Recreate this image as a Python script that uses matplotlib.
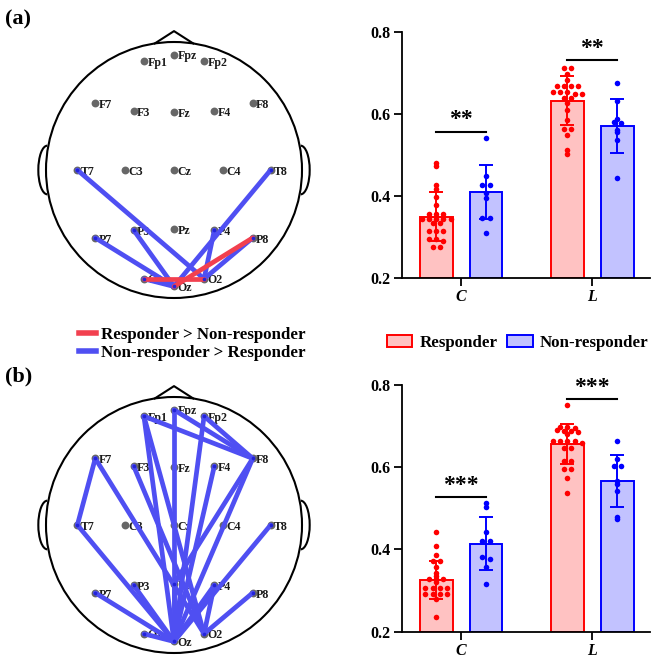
import numpy as np
import matplotlib
matplotlib.use("Agg")
import matplotlib.pyplot as plt
from matplotlib.patches import Circle, Arc, Patch
from matplotlib.lines import Line2D

plt.rcParams["font.family"] = ["Liberation Serif", "DejaVu Serif"]
plt.rcParams["font.weight"] = "bold"

# --- electrode layout (head radius = 1) ---
ELEC = {
    "Fp1": (-0.235, 0.85), "Fpz": (0.0, 0.90), "Fp2": (0.235, 0.85),
    "F7": (-0.615, 0.52), "F3": (-0.315, 0.46), "Fz": (0.0, 0.45),
    "F4": (0.315, 0.46), "F8": (0.615, 0.52),
    "T7": (-0.755, 0.0), "C3": (-0.385, 0.0), "Cz": (0.0, 0.0),
    "C4": (0.385, 0.0), "T8": (0.755, 0.0),
    "P7": (-0.615, -0.53), "P3": (-0.315, -0.47), "Pz": (0.0, -0.46),
    "P4": (0.315, -0.47), "P8": (0.615, -0.53),
    "O1": (-0.235, -0.85), "Oz": (0.0, -0.91), "O2": (0.235, -0.85),
}

# --- connections ---
a_resp_gt = [("P8", "Oz"), ("O1", "O2")]
a_non_gt = [("T7", "O2"), ("T8", "Oz"), ("P7", "Oz"), ("P3", "Oz"),
            ("P4", "O2"), ("P8", "O2"), ("O1", "Oz")]
b_resp_gt = []
b_non_gt = [("Fp1", "F8"), ("Fpz", "F8"), ("Fp2", "F8"), ("Fp1", "Oz"),
            ("Fp1", "O2"), ("Fpz", "Oz"), ("Fp2", "Oz"), ("F7", "T7"),
            ("F7", "O2"), ("F3", "O2"), ("F4", "Oz"), ("F8", "Oz"),
            ("F8", "Pz"), ("T7", "Oz"), ("T8", "Oz"), ("P7", "Oz"),
            ("P3", "Oz"), ("Pz", "Oz"), ("P4", "Oz"), ("P4", "O2"),
            ("P8", "O2"), ("O1", "Oz")]

# --- bar data ---
CATS = ["C", "L"]
a_mean_resp = [0.350, 0.632]
a_sd_resp = [0.059, 0.060]
a_mean_non = [0.410, 0.571]
a_sd_non = [0.065, 0.065]
a_pts_resp_C = [0.481, 0.472, 0.427, 0.418, 0.398, 0.377, 0.355, 0.355, 0.355,
                0.343, 0.343, 0.343, 0.343, 0.343, 0.333, 0.333, 0.315, 0.315,
                0.315, 0.294, 0.294, 0.290, 0.275, 0.275]
a_pts_non_C = [0.541, 0.449, 0.427, 0.427, 0.407, 0.394, 0.346, 0.346, 0.309]
a_pts_resp_L = [0.713, 0.713, 0.698, 0.683, 0.668, 0.668, 0.668, 0.668, 0.654,
                0.654, 0.654, 0.649, 0.649, 0.640, 0.640, 0.626, 0.610, 0.585,
                0.563, 0.563, 0.549, 0.512, 0.502]
a_pts_non_L = [0.676, 0.632, 0.589, 0.581, 0.577, 0.561, 0.555, 0.536, 0.444]
a_sig_y = [0.557, 0.731]
a_stars = ["**", "**"]

b_mean_resp = [0.326, 0.657]
b_sd_resp = [0.047, 0.048]
b_mean_non = [0.414, 0.567]
b_sd_non = [0.065, 0.063]
b_pts_resp_C = [0.442, 0.408, 0.386, 0.373, 0.373, 0.358, 0.342, 0.336, 0.328,
                0.328, 0.328, 0.306, 0.306, 0.306, 0.306, 0.292, 0.292, 0.292,
                0.292, 0.279, 0.236, 0.320]
b_pts_non_C = [0.512, 0.504, 0.443, 0.421, 0.421, 0.381, 0.377, 0.358, 0.316]
b_pts_resp_L = [0.752, 0.699, 0.699, 0.695, 0.690, 0.688, 0.688, 0.685, 0.680,
                0.665, 0.665, 0.665, 0.665, 0.660, 0.646, 0.646, 0.616, 0.616,
                0.596, 0.596, 0.573, 0.538]
b_pts_non_L = [0.665, 0.619, 0.603, 0.603, 0.567, 0.559, 0.541, 0.480, 0.473]
b_sig_y = [0.528, 0.765]
b_stars = ["***", "***"]

RED_LINE = "#f2404f"
BLUE_LINE = "#4f4ff2"
RED, BLUE = "#ff0000", "#0000ff"
RED_FACE, BLUE_FACE = "#ffc2c2", "#c2c2ff"

W, H = 664, 658
fig = plt.figure(figsize=(W / 100, H / 100), dpi=100)


def head_axes(cy_px):
    r = 128.0
    x0, x1, y0, y1 = -1.2, 1.2, -1.03, 1.2
    left = 174 - 1.2 * r
    top = cy_px - y1 * r
    ax = fig.add_axes([left / W, 1 - (top + (y1 - y0) * r) / H,
                       (x1 - x0) * r / W, (y1 - y0) * r / H])
    ax.set_xlim(x0, x1)
    ax.set_ylim(y0, y1)
    ax.set_aspect("equal")
    ax.axis("off")
    return ax


def draw_head(ax, resp_gt, non_gt):
    ax.add_patch(Circle((0, 0), 1, fill=False, lw=1.5, ec="black"))
    bx = 0.15
    by = np.sqrt(1 - bx ** 2)
    ax.plot([-bx, 0, bx], [by, 1.085, by], color="black", lw=1.5)
    ax.add_patch(Arc((-0.99, 0), 0.14, 0.38, theta1=90, theta2=270, lw=1.5))
    ax.add_patch(Arc((0.99, 0), 0.14, 0.38, theta1=-90, theta2=90, lw=1.5))
    for name, (x, y) in ELEC.items():
        ax.scatter(x, y, s=32, color="#676767", zorder=2, lw=0)
        ax.annotate(name, (x, y), xytext=(2.4, -1.2), textcoords="offset points",
                    ha="left", va="center", fontsize=8.6, color="#1a1a1a",
                    zorder=3)
    ends = set()
    for edges, col in ((non_gt, BLUE_LINE), (resp_gt, RED_LINE)):
        for a, b in edges:
            xa, ya = ELEC[a]
            xb, yb = ELEC[b]
            ax.plot([xa, xb], [ya, yb], color=col, lw=3.4, zorder=4,
                    solid_capstyle="round")
            ends.update([a, b])
    for n in ends:
        ax.scatter(*ELEC[n], s=7, color="#2323d8", zorder=5, lw=0)


def swarm(vals, step=0.055, tol=0.006):
    vals = np.asarray(vals)
    order = np.argsort(-vals)
    off = np.zeros(len(vals))
    rows, cur = [], [order[0]]
    for i in order[1:]:
        if abs(vals[i] - vals[cur[0]]) <= tol:
            cur.append(i)
        else:
            rows.append(cur)
            cur = [i]
    rows.append(cur)
    for row in rows:
        n = len(row)
        off[row] = (np.arange(n) - (n - 1) / 2) * step
    return off


def draw_bars(ax, m_r, s_r, m_n, s_n, pts_r, pts_n, sig_y, stars):
    xs = np.arange(len(CATS))
    d, w = 0.19, 0.25
    for i in xs:
        for x, m, s, pts, ec, fc in ((i - d, m_r[i], s_r[i], pts_r[i], RED, RED_FACE),
                                     (i + d, m_n[i], s_n[i], pts_n[i], BLUE, BLUE_FACE)):
            ax.bar(x, m - 0.2, bottom=0.2, width=w, color=fc, edgecolor=ec,
                   lw=1.4, zorder=2)
            ax.scatter(x + swarm(pts), pts, s=16, color=ec, lw=0, zorder=3)
            ax.errorbar(x, m, yerr=s, fmt="none", ecolor=ec, elinewidth=1.4,
                        capsize=5, capthick=1.4, zorder=4)
        ax.plot([i - d, i + d], [sig_y[i], sig_y[i]], color="black", lw=1.5)
        ax.text(i, sig_y[i] + 0.003, stars[i], ha="center", va="bottom",
                fontsize=17)
    ax.set_xlim(-0.45, 1.44)
    ax.set_ylim(0.2, 0.8)
    ax.set_yticks([0.2, 0.4, 0.6, 0.8])
    ax.set_yticklabels(["0.2", "0.4", "0.6", "0.8"])
    ax.set_xticks(xs)
    ax.set_xticklabels(CATS, fontstyle="italic", fontsize=14)
    for sp in ("top", "right"):
        ax.spines[sp].set_visible(False)
    for sp in ("left", "bottom"):
        ax.spines[sp].set_linewidth(1.3)
    ax.tick_params(direction="out", length=6, width=1.3, labelsize=11.5, pad=2)


ax_ha = head_axes(170)
draw_head(ax_ha, a_resp_gt, a_non_gt)
ax_hb = head_axes(525)
draw_head(ax_hb, b_resp_gt, b_non_gt)

ax_ba = fig.add_axes([402 / W, 1 - 278 / H, 248 / W, 246 / H])
draw_bars(ax_ba, a_mean_resp, a_sd_resp, a_mean_non, a_sd_non,
          [a_pts_resp_C, a_pts_resp_L], [a_pts_non_C, a_pts_non_L],
          a_sig_y, a_stars)
ax_bb = fig.add_axes([402 / W, 1 - 631.7 / H, 248 / W, 246.7 / H])
draw_bars(ax_bb, b_mean_resp, b_sd_resp, b_mean_non, b_sd_non,
          [b_pts_resp_C, b_pts_resp_L], [b_pts_non_C, b_pts_non_L],
          b_sig_y, b_stars)

fig.text(5 / W, 1 - 19 / H, "(a)", fontsize=16, ha="left", va="center")
fig.text(5 / W, 1 - 376 / H, "(b)", fontsize=16, ha="left", va="center")

fig.legend(handles=[Line2D([], [], color=RED_LINE, lw=4),
                    Line2D([], [], color=BLUE_LINE, lw=4)],
           labels=["Responder > Non-responder", "Non-responder > Responder"],
           loc="center left", bbox_to_anchor=(79 / W, 1 - 344 / H),
           frameon=False, fontsize=12.2, handlelength=1.0, handletextpad=0.3,
           labelspacing=0.15, borderpad=0, borderaxespad=0)
fig.legend(handles=[Patch(facecolor=RED_FACE, edgecolor=RED, lw=1.4),
                    Patch(facecolor=BLUE_FACE, edgecolor=BLUE, lw=1.4)],
           labels=["Responder", "Non-responder"], ncol=2,
           loc="center left", bbox_to_anchor=(387 / W, 1 - 343 / H),
           frameon=False, fontsize=12.2, handlelength=1.5, handleheight=0.75,
           handletextpad=0.4, columnspacing=0.6, borderpad=0, borderaxespad=0)

fig.savefig("out.png", dpi=100)
